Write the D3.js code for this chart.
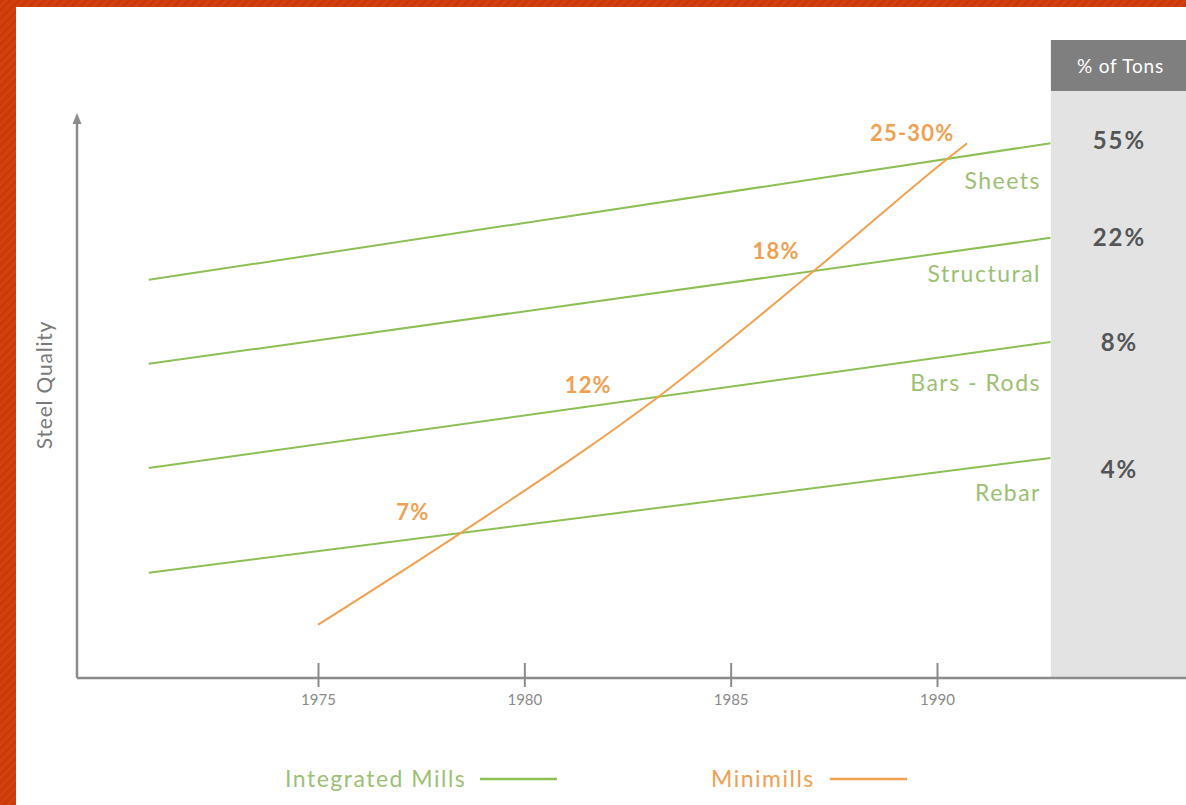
<!DOCTYPE html>
<html><head><meta charset="utf-8">
<script src="https://cdn.jsdelivr.net/npm/d3@7"></script>
<style>
html,body{margin:0;padding:0;background:#fff;}
svg{display:block;}
text{font-family:Lato,"Open Sans",sans-serif;}
</style></head>
<body>
<svg id="c" width="1186" height="805"></svg>
<script>
// Data
const segments = ["Sheets", "Structural", "Bars - Rods", "Rebar"];
const shareOfTons = ["55%", "22%", "8%", "4%"];
const integratedYears = [1970.9, 1992.75];
const integratedStart = [71.1, 56.1, 37.5, 18.8];
const integratedEnd = [95.5, 78.6, 60.0, 39.3];
const minimillYears = [1975, 1978.5, 1983.3, 1987.1, 1990.3, 1990.73];
const minimillQuality = [9.5, 26.1, 50.5, 73.2, 93.0, 95.5];
const minimillLabels = ["7%", "12%", "18%", "25-30%"];
const minimillLabelYears = [1977.3, 1981.55, 1986.1, 1989.4];
const minimillLabelQuality = [29.6, 52.3, 76.3, 97.3];
const tickYears = [1975, 1980, 1985, 1990];

const svg = d3.select("#c");
const W = 1186, H = 805;

// slide background border
const defs = svg.append("defs");
const pat = defs.append("pattern").attr("id","stripes").attr("width",6).attr("height",6)
  .attr("patternUnits","userSpaceOnUse").attr("patternTransform","rotate(45)");
pat.append("rect").attr("width",6).attr("height",6).attr("fill","#d2400e");
pat.append("rect").attr("width",3).attr("height",6).attr("fill","#c93a0a");
svg.append("rect").attr("width",W).attr("height",H).attr("fill","url(#stripes)");
svg.append("rect").attr("x",16).attr("y",7).attr("width",W-16).attr("height",H-7).attr("fill","#fff");

const x = d3.scaleLinear().domain([1975, 1990]).range([318, 937]);
const y = d3.scaleLinear().domain([0, 100]).range([678, 118]);

const green = "#8dbf55", greenText = "#9cbf74", orange = "#f2a04e", orangeText = "#f0a050";

// gray panel
const panelX = x(1992.76);
svg.append("rect").attr("x",panelX).attr("y",91).attr("width",W-panelX).attr("height",678-91).attr("fill","#e3e3e3");
svg.append("rect").attr("x",panelX).attr("y",40).attr("width",W-panelX).attr("height",51).attr("fill","#7f7f7f");
svg.append("text").attr("x",(panelX+W)/2+2).attr("y",73).attr("text-anchor","middle")
  .attr("fill","#fff").attr("font-size",19).attr("letter-spacing",0.8).text("% of Tons");

// axes
const axisColor = "#8c8c8c";
const xAxis = d3.axisBottom(x).tickValues(tickYears).tickFormat(d3.format("d")).tickSize(0).tickPadding(0);
const gx = svg.append("g").attr("transform","translate(0,678)").call(xAxis);
gx.select(".domain").remove();
gx.selectAll(".tick text").attr("y",22).attr("dy","0.32em").attr("fill","#8a8a8a").attr("font-size",15).style("font-family","Lato,sans-serif");
gx.selectAll(".tick").append("line").attr("y1",-15).attr("y2",9).attr("stroke",axisColor).attr("stroke-width",2);
svg.append("line").attr("x1",77).attr("x2",W).attr("y1",678).attr("y2",678).attr("stroke",axisColor).attr("stroke-width",2.5);
svg.append("line").attr("x1",77).attr("x2",77).attr("y1",678).attr("y2",124).attr("stroke",axisColor).attr("stroke-width",2.5);
svg.append("path").attr("d","M77,113 L72.5,124 L81.5,124 Z").attr("fill",axisColor);

svg.append("text").attr("transform","translate(52,385) rotate(-90)").attr("text-anchor","middle")
  .attr("fill","#7a7a7a").attr("font-size",21).attr("letter-spacing",0.8).text("Steel Quality");

// integrated mill lines
const line = d3.line().x(d=>x(d[0])).y(d=>y(d[1]));
segments.forEach((s,i)=>{
  svg.append("path").attr("d", line([[integratedYears[0], integratedStart[i]],[integratedYears[1], integratedEnd[i]]]))
    .attr("stroke",green).attr("stroke-width",2).attr("fill","none");
});
// segment labels
const segLabelOffset = [38, 36, 41, 35];
segments.forEach((s,i)=>{
  svg.append("text").attr("x",1041).attr("y",y(integratedEnd[i])+segLabelOffset[i]+8)
    .attr("text-anchor","end").attr("fill",greenText).attr("font-size",23).attr("letter-spacing",1.5).text(s);
});
// percentages
shareOfTons.forEach((p,i)=>{
  const yy = [141,238,343,470][i];
  svg.append("text").attr("x",(panelX+W)/2+1).attr("y",yy+8).attr("text-anchor","middle")
    .attr("fill","#555").attr("font-weight","bold").attr("font-size",24).attr("letter-spacing",2).text(p);
});

// minimill line
const curve = d3.line().x(d=>x(d[0])).y(d=>y(d[1])).curve(d3.curveMonotoneX);
svg.append("path").attr("d", curve(minimillYears.map((yr,i)=>[yr, minimillQuality[i]])))
  .attr("stroke",orange).attr("stroke-width",2).attr("fill","none");
minimillLabels.forEach((l,i)=>{
  svg.append("text").attr("x",x(minimillLabelYears[i])).attr("y",y(minimillLabelQuality[i])+8)
    .attr("text-anchor","middle").attr("fill",orangeText).attr("font-weight","bold").attr("font-size",22).attr("letter-spacing",1.2).text(l);
});

// legend
svg.append("text").attr("x",285).attr("y",787).attr("fill",greenText).attr("font-size",23).attr("letter-spacing",1.5).text("Integrated Mills");
svg.append("line").attr("x1",480).attr("x2",557).attr("y1",779).attr("y2",779).attr("stroke",green).attr("stroke-width",2.5);
svg.append("text").attr("x",711).attr("y",787).attr("fill",orangeText).attr("font-size",23).attr("letter-spacing",1.5).text("Minimills");
svg.append("line").attr("x1",830).attr("x2",907).attr("y1",779).attr("y2",779).attr("stroke",orange).attr("stroke-width",2.5);
</script>
</body></html>
